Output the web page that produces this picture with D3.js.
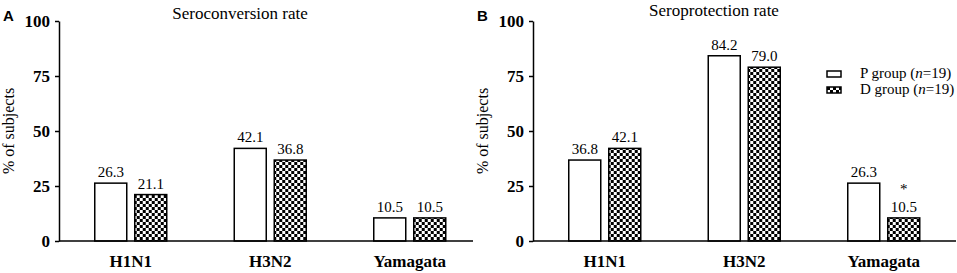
<!DOCTYPE html>
<html>
<head>
<meta charset="utf-8">
<script src="https://cdn.jsdelivr.net/npm/d3@7"></script>
<style>
  body { margin: 0; background: #fff; }
  svg { display: block; }
  text { font-family: "Liberation Serif", "Times New Roman", Times, serif; fill: #000; }
  .heavy { font-weight: bold; }
</style>
</head>
<body>
<svg id="chart" width="957" height="273"></svg>
<script>
const categories = ['H1N1', 'H3N2', 'Yamagata'];
const groups = ['P', 'D'];
const yTicks = [0, 25, 50, 75, 100];

const conversionP = [26.3, 42.1, 10.5];
const conversionD = [21.1, 36.8, 10.5];
const protectionP = [36.8, 84.2, 26.3];
const protectionD = [42.1, 79.0, 10.5];
const protectionSig = ['', '', '*'];

const legendLabels = ['P group (', 'D group ('];

const svg = d3.select('#chart');

// checkerboard fill for the D group
const defs = svg.append('defs');
const pat = defs.append('pattern')
  .attr('id', 'checks')
  .attr('patternUnits', 'userSpaceOnUse')
  .attr('width', 6)
  .attr('height', 6);
pat.append('rect').attr('width', 6).attr('height', 6).attr('fill', '#fff');
pat.append('rect').attr('width', 3).attr('height', 3).attr('fill', '#000');
pat.append('rect').attr('x', 3).attr('y', 3).attr('width', 3).attr('height', 3).attr('fill', '#000');

const y = d3.scaleLinear().domain([0, 100]).range([241, 21]);

const fill = g => g === 'P' ? '#fff' : 'url(#checks)';

function drawPanel(opts) {
  const { axisX, axisEnd, letter, title, titleY, pVals, dVals, sig } = opts;
  const g = svg.append('g');

  const x = d3.scaleBand().domain(categories).range([axisX + 2, axisX + 2 + 418.5]);
  const xi = d3.scaleBand().domain(groups).range([-36, 36]).paddingInner(0.2);

  // y axis
  const yAxis = g.append('g')
    .attr('transform', `translate(${axisX},0)`)
    .call(d3.axisLeft(y).tickValues(yTicks).tickSize(4).tickPadding(5).tickSizeOuter(0));
  yAxis.attr('font-family', null);
  yAxis.select('.domain').attr('stroke', '#000').attr('stroke-width', 1.5);
  yAxis.selectAll('.tick line').attr('stroke', '#000').attr('stroke-width', 1.5);
  yAxis.selectAll('.tick text')
    .attr('class', 'heavy')
    .style('font-size', '17px')
    .attr('fill', '#000');

  const rows = categories.map((c, i) => ({ c, i, vals: [pVals[i], dVals[i]] }));

  const grp = g.selectAll('.grp').data(rows).join('g')
    .attr('transform', d => `translate(${x(d.c) + x.bandwidth() / 2},0)`);

  const bars = d => groups.map((k, j) => ({ k, v: d.vals[j], s: j === 1 && sig ? sig[d.i] : '' }));

  grp.selectAll('rect')
    .data(bars)
    .join('rect')
    .attr('x', d => xi(d.k))
    .attr('y', d => y(d.v))
    .attr('width', xi.bandwidth())
    .attr('height', d => y(0) - y(d.v))
    .attr('fill', d => fill(d.k))
    .attr('stroke', '#000')
    .attr('stroke-width', 1.5);

  const lab = grp.selectAll('.val')
    .data(bars)
    .join('g');
  lab.append('text')
    .attr('x', d => xi(d.k) + xi.bandwidth() / 2)
    .attr('y', d => y(d.v) - 6)
    .attr('text-anchor', 'middle')
    .style('font-size', '15px')
    .text(d => d.v.toFixed(1));
  lab.filter(d => d.s).append('text')
    .attr('x', d => xi(d.k) + xi.bandwidth() / 2)
    .attr('y', d => y(d.v) - 24)
    .attr('text-anchor', 'middle')
    .style('font-size', '15px')
    .text(d => d.s);

  // x axis line
  g.append('line')
    .attr('x1', axisX).attr('x2', axisEnd)
    .attr('y1', y(0)).attr('y2', y(0))
    .attr('stroke', '#000').attr('stroke-width', 1.5);

  g.selectAll('.cat').data(categories).join('text')
    .attr('class', 'heavy')
    .attr('x', d => x(d) + x.bandwidth() / 2)
    .attr('y', 267)
    .attr('text-anchor', 'middle')
    .style('font-size', '17px')
    .text(d => d);

  g.append('text')
    .attr('transform', `translate(${axisX - 45},131) rotate(-90)`)
    .attr('text-anchor', 'middle')
    .style('font-size', '16px')
    .text('% of subjects');

  g.append('text')
    .attr('x', axisX + 181)
    .attr('y', titleY)
    .attr('text-anchor', 'middle')
    .style('font-size', '17px')
    .text(title);

  g.append('text')
    .attr('x', axisX - 56)
    .attr('y', 21)
    .style('font-family', '"Liberation Sans", Arial, sans-serif')
    .style('font-size', '15px')
    .style('font-weight', 'bold')
    .text(letter);
}

drawPanel({
  axisX: 59, axisEnd: 473, letter: 'A', title: 'Seroconversion rate', titleY: 19,
  pVals: conversionP, dVals: conversionD
});
drawPanel({
  axisX: 533, axisEnd: 956, letter: 'B', title: 'Seroprotection rate', titleY: 16,
  pVals: protectionP, dVals: protectionD, sig: protectionSig
});

// legend
const leg = svg.append('g').attr('transform', 'translate(827,71)');
const li = leg.selectAll('g').data(groups).join('g')
  .attr('transform', (d, i) => `translate(0,${i * 16})`);
li.append('rect')
  .attr('width', 14).attr('height', 6)
  .attr('fill', d => fill(d))
  .attr('stroke', '#000').attr('stroke-width', 1.5);
const lt = li.append('text')
  .attr('x', 33).attr('y', 7)
  .style('font-size', '15px');
lt.append('tspan').text((d, i) => legendLabels[i]);
lt.append('tspan').style('font-style', 'italic').text('n');
lt.append('tspan').text('=19)');
</script>
</body>
</html>
